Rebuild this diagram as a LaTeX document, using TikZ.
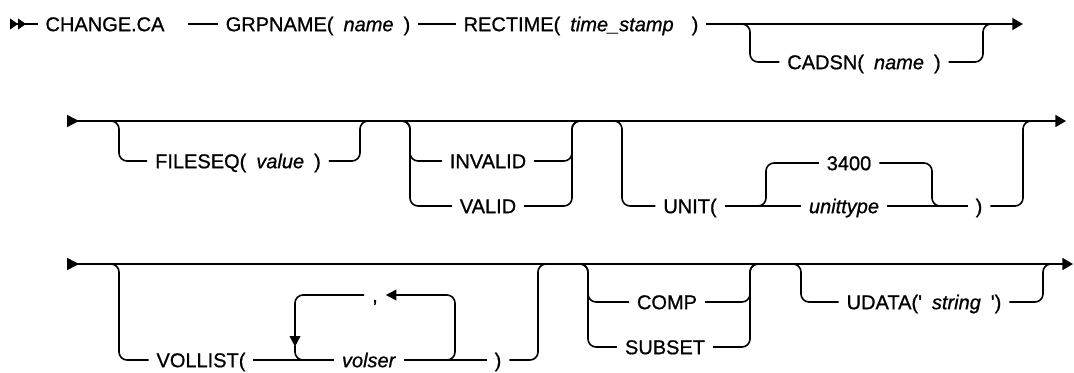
\documentclass[tikz,border=0pt]{standalone}
\usepackage{fontspec}
\setmainfont{Liberation Sans}[FakeBold=0.8]
\usetikzlibrary{arrows.meta}

\begin{document}
\begin{tikzpicture}[x=0.75pt, y=-0.75pt,
    word node/.style={inner xsep=0pt, inner ysep=0pt, outer xsep=6pt, outer ysep=0pt, text height=10.8pt, text depth=0pt, font=\fontsize{15}{18}\selectfont},
    rail/.style={line width=1.2pt, rounded corners=6pt},
    row tips/.style={{Triangle[reversed, length=9pt, width=9pt]}-{Triangle[length=8pt, width=9pt]}},
    end tip/.style={-{Triangle[length=8pt, width=9pt]}},
    loop tip/.style={-{Triangle[length=8pt, width=8pt]}}]
\useasboundingbox (0,0) rectangle (1074,372);

% first line
\coordinate (s1) at (10,24);
\coordinate (e1) at (1023,24);
\coordinate (b1l) at (750,24);
\coordinate (b1r) at (983,24);
\node[word node] (chg) at (105,24) {CHANGE.CA};
\node[word node] (grp) at (318,24) {GRPNAME(\enspace\textit{name}\enspace)};
\node[word node] (rec) at (581,24) {RECTIME(\enspace\textit{time\_stamp}\hspace{0.9em})};
\node[word node] (cad) at (864,62) {CADSN(\enspace\textit{name}\enspace)};
\draw[rail, {Triangle[reversed, length=6pt, width=8pt]Triangle[reversed, length=6pt, width=8pt]}-] (s1) -- (chg.west);
\draw[rail] (chg.east) ++(12pt,0) -- (grp.west);
\draw[rail] (grp.east) -- (rec.west);
\draw[rail, end tip] (rec.east) -- (e1);
\draw[rail] ([xshift=-6pt]b1l) -| (b1l |- cad) -- (cad.west);
\draw[rail] (cad.east) -- (b1r |- cad) |- ([xshift=6pt]b1r);

% second line
\coordinate (s2) at (67,121);
\coordinate (e2) at (1066,121);
\coordinate (b2l) at (119,121);
\coordinate (b2r) at (360,121);
\coordinate (b3l) at (410,121);
\coordinate (b3r) at (572,121);
\coordinate (b4l) at (622,121);
\coordinate (b4r) at (1023,121);
\coordinate (b5l) at (766,206);
\coordinate (b5r) at (932,206);
\node[word node] (fseq) at (238,161) {FILESEQ(\enspace\textit{value}\enspace)};
\node[word node] (inv) at (488,161) {INVALID};
\node[word node] (val) at (488,206) {VALID};
\node[word node] (unit) at (690,206) {UNIT(};
\node[word node] (dflt) at (849,163) {3400};
\node[word node] (utype) at (844,206) {\textit{unittype}};
\node[word node] (uclose) at (979,206) {)};
\draw[rail, row tips] (s2) -- (e2);
\draw[rail] ([xshift=-6pt]b2l) -| (b2l |- fseq) -- (fseq.west);
\draw[rail] (fseq.east) -- (b2r |- fseq) |- ([xshift=6pt]b2r);
\draw[rail] ([xshift=-6pt]b3l) -| (b3l |- inv) -- (inv.west);
\draw[rail] ([xshift=-6pt]b3l) -| (b3l |- val) -- (val.west);
\draw[rail] (inv.east) -- (b3r |- inv) |- ([xshift=6pt]b3r);
\draw[rail] (val.east) -- (b3r |- val) |- ([xshift=6pt]b3r);
\draw[rail] ([xshift=-6pt]b4l) -| (b4l |- unit) -- (unit.west);
\draw[rail] (unit.east) -- (utype.west);
\draw[rail] ([xshift=-6pt]b5l) -| (b5l |- dflt) -- (dflt.west);
\draw[rail] (dflt.east) -- (b5r |- dflt) |- ([xshift=6pt]b5r);
\draw[rail] (utype.east) -- (uclose.west);
\draw[rail] (uclose.east) -- (b4r |- uclose) |- ([xshift=6pt]b4r);

% third line
\coordinate (s3) at (67,264);
\coordinate (e3) at (1073,264);
\coordinate (b6l) at (119,264);
\coordinate (b6r) at (538,264);
\coordinate (b7l) at (588,264);
\coordinate (b7r) at (750,264);
\coordinate (b8l) at (801,264);
\coordinate (b8r) at (1043,264);
\coordinate (lpl) at (295,360);
\coordinate (lpr) at (455,360);
\node[word node] (vol) at (201,360) {VOLLIST(};
\node[word node] (volser) at (369,360) {\textit{volser}};
\node[word node] (comma) at (375,295) {,};
\node[word node] (vclose) at (498,360) {)};
\node[word node] (comp) at (667,302) {COMP};
\node[word node] (subset) at (665,347) {SUBSET};
\node[word node] (udata) at (924,302) {UDATA(\textquotesingle\enspace\textit{string}\enspace\textquotesingle)};
\draw[rail, row tips] (s3) -- (e3);
\draw[rail] ([xshift=-6pt]b6l) -| (b6l |- vol) -- (vol.west);
\draw[rail] (vol.east) -- (volser.west);
\draw[rail] (volser.east) -- (vclose.west);
\draw[rail, loop tip] ([xshift=-6pt]lpr) -| (lpr |- comma) -- (comma.east);
\draw[rail, loop tip] (comma.west) -| ([yshift=10pt]lpl);
\draw[rail] ([yshift=11pt]lpl) |- ([xshift=6pt]lpl);
\draw[rail] (vclose.east) -- (b6r |- vclose) |- ([xshift=6pt]b6r);
\draw[rail] ([xshift=-6pt]b7l) -| (b7l |- comp) -- (comp.west);
\draw[rail] ([xshift=-6pt]b7l) -| (b7l |- subset) -- (subset.west);
\draw[rail] (comp.east) -- (b7r |- comp) |- ([xshift=6pt]b7r);
\draw[rail] (subset.east) -- (b7r |- subset) |- ([xshift=6pt]b7r);
\draw[rail] ([xshift=-6pt]b8l) -| (b8l |- udata) -- (udata.west);
\draw[rail] (udata.east) -- (b8r |- udata) |- ([xshift=6pt]b8r);
\end{tikzpicture}
\end{document}
